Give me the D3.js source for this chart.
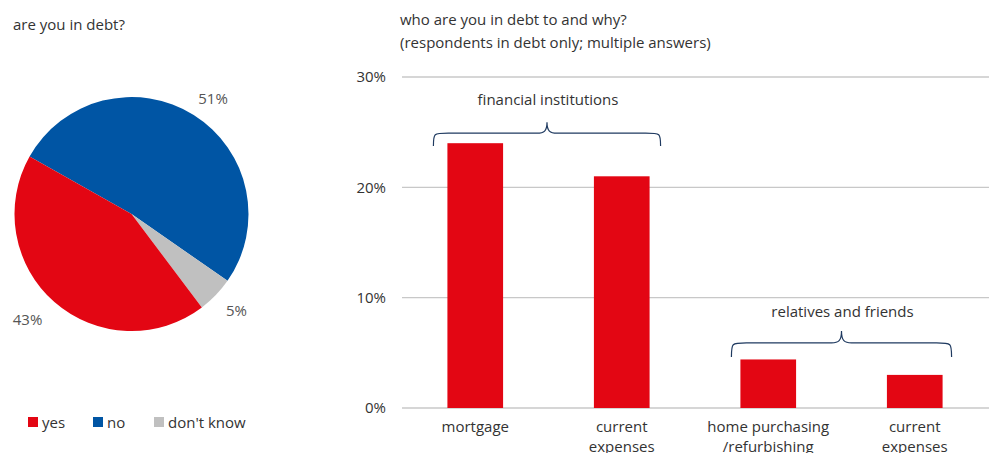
<!DOCTYPE html>
<html><head><meta charset="utf-8">
<script src="https://cdn.jsdelivr.net/npm/d3@7"></script>
<style>
body{margin:0;background:#fff;}
text{font-family:"Open Sans",sans-serif;}
</style></head>
<body><svg id="c" width="989" height="453"></svg>
<script>
// ---- data ----
const pieCategories = ["yes", "no", "don't know"];
const pieValues = [43, 51, 5];
const pieColors = ["#E30613", "#0055A4", "#C0C0C0"];

const barCategories = [["mortgage"], ["current", "expenses"], ["home purchasing", "/refurbishing"], ["current", "expenses"]];
const barValues = [24, 21, 4.4, 3.0];
const yTicks = [0, 10, 20, 30];
const groups = [
  {label: "financial institutions", from: 0, to: 1},
  {label: "relatives and friends", from: 2, to: 3}
];

const FS = 15;
const svg = d3.select("#c");
const txt = "#333";

// ---- pie ----
svg.append("text").attr("x", 13).attr("y", 30).attr("font-size", FS).attr("fill", txt).text("are you in debt?");
const cx = 131.5, cy = 214, R = 117;
const order = [1, 2, 0]; // no, don't know, yes clockwise
const start = -60.6 * Math.PI / 180;
const pie = d3.pie().sort(null).value(i => pieValues[i]).startAngle(start).endAngle(start + 2 * Math.PI);
const arcs = pie(order);
const arc = d3.arc().innerRadius(0).outerRadius(R);
const pg = svg.append("g").attr("transform", `translate(${cx},${cy})`);
pg.selectAll("path").data(arcs).enter().append("path")
  .attr("d", arc).attr("fill", d => pieColors[d.data]);
const labelR = {0: 148, 1: 141, 2: 143};
const labelShift = {0: 3.4, 1: 3.2, 2: -1.2}; // degrees
const la = d => (d.startAngle + d.endAngle) / 2 + labelShift[d.data] * Math.PI / 180;
pg.selectAll("text.pl").data(arcs).enter().append("text")
  .attr("class", "pl")
  .attr("x", d => Math.sin(la(d)) * labelR[d.data])
  .attr("y", d => -Math.cos(la(d)) * labelR[d.data])
  .attr("text-anchor", "middle").attr("dy", "0.35em")
  .attr("font-size", FS).attr("fill", "#555")
  .text(d => pieValues[d.data] + "%");

// legend
const legX = [28, 93, 154];
const lg = svg.append("g");
pieCategories.forEach((c, i) => {
  lg.append("rect").attr("x", legX[i]).attr("y", 417).attr("width", 10).attr("height", 10).attr("fill", pieColors[i]);
  lg.append("text").attr("x", legX[i] + 14).attr("y", 427.5).attr("font-size", FS).attr("fill", txt).text(c);
});

// ---- bar chart ----
svg.append("text").attr("x", 400).attr("y", 25).attr("font-size", FS).attr("fill", txt).text("who are you in debt to and why?");
svg.append("text").attr("x", 400).attr("y", 48).attr("font-size", FS).attr("fill", txt).text("(respondents in debt only; multiple answers)");

const x = d3.scaleBand().domain(d3.range(barValues.length)).range([402, 988]).paddingInner(0.62).paddingOuter(0.31);
const y = d3.scaleLinear().domain([0, 30]).range([408, 77]);

const yAxis = d3.axisLeft(y).tickValues(yTicks).tickFormat(d => d + "%").tickSize(0).tickPadding(0);
const ga = svg.append("g").attr("transform", "translate(386,0)").call(yAxis);
ga.select(".domain").remove();
ga.selectAll("text").attr("font-size", FS).attr("fill", txt).attr("font-family", "Open Sans");

svg.append("g").selectAll("line").data(yTicks).enter().append("line")
  .attr("x1", 402).attr("x2", 989).attr("y1", d => y(d)).attr("y2", d => y(d))
  .attr("stroke", "#c8c8c8").attr("stroke-width", 1.3);

svg.append("g").selectAll("rect").data(barValues).enter().append("rect")
  .attr("x", (d, i) => x(i)).attr("width", x.bandwidth())
  .attr("y", d => y(d)).attr("height", d => y(0) - y(d)).attr("fill", "#E30613");

// category labels
const cl = svg.append("g");
barCategories.forEach((lines, i) => {
  const t = cl.append("text").attr("x", x(i) + x.bandwidth() / 2).attr("y", 432)
    .attr("text-anchor", "middle").attr("font-size", FS).attr("fill", txt);
  lines.forEach((l, j) => t.append("tspan").attr("x", x(i) + x.bandwidth() / 2).attr("dy", j ? 20 : 0).text(l));
});

// braces
function brace(x1, x2, yLine, h, tipH) {
  const m = (x1 + x2) / 2, r = 10;
  return `M${x1},${yLine + h} C${x1},${yLine} ${x1},${yLine} ${x1 + r * 1.5},${yLine}`
    + ` L${m - r},${yLine} C${m - 3},${yLine} ${m},${yLine - 2} ${m},${yLine - tipH}`
    + ` C${m},${yLine - 2} ${m + 3},${yLine} ${m + r},${yLine}`
    + ` L${x2 - r * 1.5},${yLine} C${x2},${yLine} ${x2},${yLine} ${x2},${yLine + h}`;
}
const braceCfg = [{lineOff: -10, endOff: 2.7, tip: 11, labOff: -33}, {lineOff: -16.5, endOff: -2.5, tip: 12, labOff: -31}];
groups.forEach((g, k) => {
  const cfg = braceCfg[k];
  const x1 = x(g.from) - (k === 0 ? 14 : 9);
  const x2 = x(g.to) + x.bandwidth() + (k === 0 ? 11 : 9);
  const top = y(d3.max(barValues.slice(g.from, g.to + 1)));
  const yl = top + cfg.lineOff;
  svg.append("path").attr("d", brace(x1, x2, yl, cfg.endOff - cfg.lineOff, cfg.tip))
    .attr("fill", "none").attr("stroke", "#1F3A60").attr("stroke-width", 1.2);
  svg.append("text").attr("x", (x1 + x2) / 2 + 1).attr("y", yl + cfg.labOff + 5)
    .attr("text-anchor", "middle").attr("font-size", FS).attr("fill", txt).text(g.label);
});
</script></body></html>
